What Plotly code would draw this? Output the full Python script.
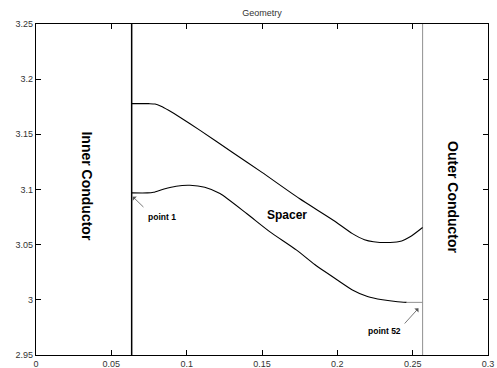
import plotly.graph_objects as go

# Upper spacer boundary
upper_x = [0.0635, 0.075, 0.079, 0.083, 0.088, 0.095, 0.1089, 0.130, 0.150, 0.1748, 0.1973, 0.210, 0.218, 0.224, 0.235, 0.2427, 0.2483, 0.2566]
upper_y = [3.1778, 3.1778, 3.1775, 3.1755, 3.1718, 3.1660, 3.1536, 3.1340, 3.1155, 3.0918, 3.0722, 3.0600, 3.0545, 3.0527, 3.0520, 3.0534, 3.0571, 3.0656]

# Lower spacer boundary (point 1 ... point 52)
lower_x = [0.0635, 0.074, 0.078, 0.085, 0.093, 0.1022, 0.112, 0.1221, 0.1398, 0.1553, 0.173, 0.185, 0.200, 0.210, 0.220, 0.230, 0.240, 0.246]
lower_y = [3.0969, 3.0969, 3.0975, 3.1005, 3.1030, 3.1038, 3.1020, 3.0963, 3.0782, 3.0616, 3.0450, 3.0320, 3.0180, 3.0090, 3.0030, 3.0000, 2.9982, 2.9977]
end_x = [0.246, 0.2566]
end_y = [2.9977, 2.9977]

# Conductor boundaries
inner_x = [0.0635, 0.0635]
outer_x = [0.2566, 0.2566]
wall_y = [2.95, 3.25]

x_ticks = [0, 0.05, 0.1, 0.15, 0.2, 0.25, 0.3]
x_labels = ["0", "0.05", "0.1", "0.15", "0.2", "0.25", "0.3"]
y_ticks = [2.95, 3.0, 3.05, 3.1, 3.15, 3.2, 3.25]
y_labels = ["2.95", "3", "3.05", "3.1", "3.15", "3.2", "3.25"]

FONT = "Liberation Sans, Arial, sans-serif"

fig = go.Figure()
fig.add_trace(go.Scatter(x=inner_x, y=wall_y, mode="lines", line=dict(color="black", width=1.5)))
fig.add_trace(go.Scatter(x=outer_x, y=wall_y, mode="lines", line=dict(color="#909090", width=1)))
fig.add_trace(go.Scatter(x=upper_x, y=upper_y, mode="lines", line=dict(color="black", width=1.1, shape="spline", smoothing=0.6)))
fig.add_trace(go.Scatter(x=lower_x, y=lower_y, mode="lines", line=dict(color="black", width=1.1, shape="spline", smoothing=0.6)))
fig.add_trace(go.Scatter(x=end_x, y=end_y, mode="lines", line=dict(color="#909090", width=1)))

ann = []
ann.append(dict(x=0.0336, y=3.1031, text="<b>Inner Conductor</b>", showarrow=False, textangle=90,
                font=dict(family=FONT, size=14, color="black")))
ann.append(dict(x=0.2766, y=3.0925, text="<b>Outer Conductor</b>", showarrow=False, textangle=90,
                font=dict(family=FONT, size=14, color="black")))
ann.append(dict(x=0.1664, y=3.0773, text="<b>Spacer</b>", showarrow=False,
                font=dict(family=FONT, size=12, color="black")))
ann.append(dict(x=0.0834, y=3.0752, text="<b>point 1</b>", showarrow=False,
                font=dict(family=FONT, size=8.5, color="black")))
ann.append(dict(x=0.2316, y=2.972, text="<b>point 52</b>", showarrow=False,
                font=dict(family=FONT, size=8.5, color="black")))
# arrows
ann.append(dict(x=0.0642, y=3.0935, ax=0.0723, ay=3.0828, axref="x", ayref="y", xref="x", yref="y",
                text="", showarrow=True, arrowhead=1, arrowsize=1.2, arrowwidth=0.8, arrowcolor="#555"))
ann.append(dict(x=0.2538, y=2.9923, ax=0.2438, ay=2.9772, axref="x", ayref="y", xref="x", yref="y",
                text="", showarrow=True, arrowhead=1, arrowsize=1.2, arrowwidth=0.8, arrowcolor="#555"))

axis_common = dict(showgrid=False, zeroline=False, showline=True, linecolor="black", linewidth=1.3,
                   mirror="ticks", ticks="inside", ticklen=5, tickcolor="black", tickwidth=1,
                   automargin=False,
                   tickfont=dict(family=FONT, size=9, color="#333"))

fig.update_layout(
    width=497, height=368,
    margin=dict(l=36, r=9, t=23.5, b=13, autoexpand=False),
    paper_bgcolor="white", plot_bgcolor="white",
    showlegend=False,
    title=dict(text="Geometry", x=0.527, xanchor="center", y=0.965, yanchor="middle",
               font=dict(family=FONT, size=9, color="#333"), automargin=False),
    xaxis=dict(range=[0, 0.3], tickvals=x_ticks, ticktext=x_labels, **axis_common),
    yaxis=dict(range=[2.95, 3.25], tickvals=y_ticks, ticktext=y_labels, **axis_common),
    annotations=ann,
)

fig.write_html("out.html")
